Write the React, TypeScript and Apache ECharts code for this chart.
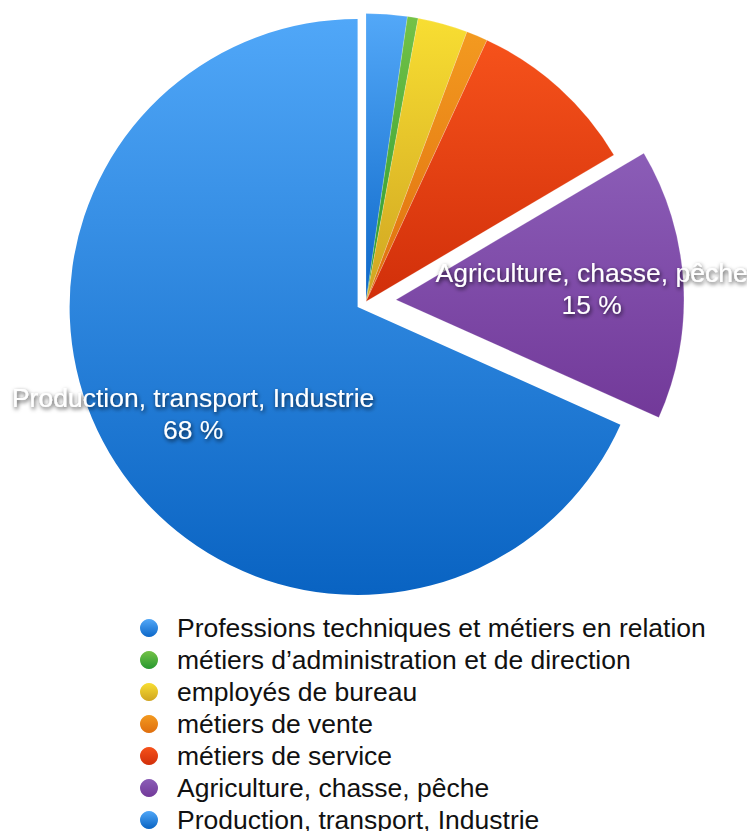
import React, { useEffect, useRef } from "react";
import * as echarts from "echarts";

const categories = [
  "Professions techniques et métiers en relation",
  "métiers d’administration et de direction",
  "employés de bureau",
  "métiers de vente",
  "métiers de service",
  "Agriculture, chasse, pêche",
  "Production, transport, Industrie",
];
const values = [2.3, 0.6, 2.8, 1.2, 9.6, 15.2, 68.3];
const labelled = ["Agriculture, chasse, pêche", "Production, transport, Industrie"];
const exploded30 = "Agriculture, chasse, pêche";
const exploded10 = "Production, transport, Industrie";

const topColors = ["#53A8F8", "#74C247", "#F8DE32", "#F39A20", "#F6521B", "#8B5DB7", "#50A7F8"];
const bottomColors = ["#0C67C8", "#279830", "#CFA421", "#DF6E0E", "#D12F0A", "#723999", "#0963C2"];

const FONT = "'Liberation Sans', Arial, Helvetica, sans-serif";

function grad(i: number) {
  return new echarts.graphic.LinearGradient(0, 0, 0, 1, [
    { offset: 0, color: topColors[i] },
    { offset: 1, color: bottomColors[i] },
  ]);
}

export default function App() {
  const ref = useRef<HTMLDivElement>(null);
  useEffect(() => {
    if (!ref.current) return;
    const chart = echarts.init(ref.current, undefined, { renderer: "svg" });
    const center = [366, 301.5];
    const R = 288;
    const labelR = 386;
    const labelStyle = {
      show: true,
      position: "inside",
      color: "#ffffff",
      opacity: 1,
      fontSize: 26.5,
      fontFamily: FONT,
      lineHeight: 32,
      textShadowColor: "rgba(0,0,0,0.75)",
      textShadowBlur: 4,
      textShadowOffsetX: 1,
      textShadowOffsetY: 2,
      formatter: (p: any) => `${p.name}\n${Math.round(p.percent)} %`,
    };
    const common = {
      type: "pie",
      center,
      startAngle: 90,
      clockwise: true,
      avoidLabelOverlap: false,
      selectedMode: "multiple",
      labelLine: { show: false },
      emphasis: { disabled: true },
      animation: false,
    };
    const mainData = categories.map((name, i) => ({
      name,
      value: values[i],
      selected: name === exploded30,
      itemStyle: {
        color: grad(i),
        opacity: name === exploded10 ? 0 : 1,
        borderColor: "rgba(255,255,255,0.35)",
        borderWidth: name === exploded10 ? 0 : 0.5,
      },
    }));
    const prodData = categories.map((name, i) => ({
      name,
      value: values[i],
      selected: name === exploded10,
      itemStyle: { color: grad(i), opacity: name === exploded10 ? 1 : 0 },
    }));
    const labelData = (expl: string) =>
      categories.map((name, i) => ({
        name,
        value: values[i],
        selected: name === expl,
        itemStyle: { color: "rgba(0,0,0,0)", opacity: 1 },
        label: { show: name === expl && labelled.includes(name) },
      }));
    chart.setOption({
      animation: false,
      legend: {
        orient: "vertical",
        left: 140,
        top: 612,
        height: 260,
        padding: 0,
        itemGap: 0,
        itemWidth: 46,
        itemHeight: 18,
        icon: "circle",
        selectedMode: false,
        textStyle: { fontSize: 26.5, fontFamily: FONT, color: "#111111", lineHeight: 32 },
        data: categories.map((name, i) => ({
          name,
          itemStyle: { color: grad(i), opacity: 1, borderWidth: 0 },
        })),
      },
      series: [
        { ...common, name: "main", radius: R, selectedOffset: 30, label: { show: false }, data: mainData },
        { ...common, name: "prod", radius: R, selectedOffset: 10, silent: true, label: { show: false }, data: prodData },
        { ...common, name: "lab1", radius: labelR, selectedOffset: 30, silent: true, label: labelStyle, data: labelData(exploded30) },
        { ...common, name: "lab2", radius: labelR, selectedOffset: 10, silent: true, label: labelStyle, data: labelData(exploded10) },
      ],
    });
    return () => chart.dispose();
  }, []);
  return (
    <div
      ref={ref}
      style={{ position: "fixed", left: 0, top: 0, width: 747, height: 831, background: "#ffffff" }}
    />
  );
}
